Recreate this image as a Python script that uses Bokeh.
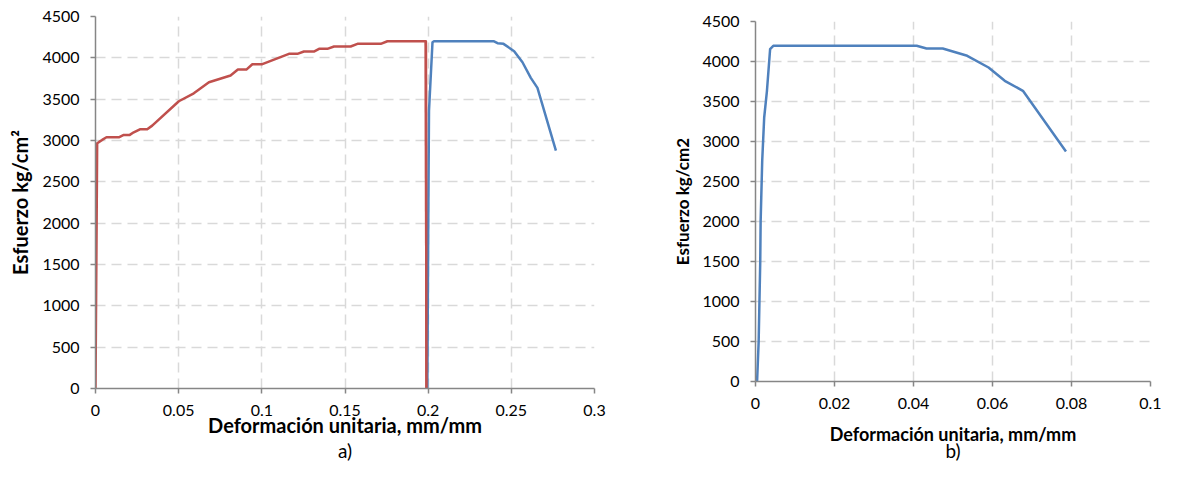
from bokeh.plotting import figure
from bokeh.layouts import row, column
from bokeh.models import FixedTicker, Range1d, Title, Spacer
from bokeh.embed import file_html
from bokeh.resources import INLINE

# ---------------- data: chart a) ----------------
a_red_x = [0, 0.001, 0.0022, 0.004, 0.0066, 0.014, 0.017, 0.0206, 0.023, 0.0267,
           0.0311, 0.0341, 0.0501, 0.0591, 0.0682, 0.0812, 0.0856, 0.0907, 0.0943,
           0.1003, 0.1163, 0.1214, 0.1253, 0.1313, 0.1344, 0.1394, 0.1434, 0.1534,
           0.1575, 0.1715, 0.1755, 0.1986, 0.1990]
a_red_y = [0, 2966, 2983, 3007, 3039, 3039, 3068, 3068, 3099, 3136,
           3136, 3180, 3475, 3571, 3705, 3786, 3858, 3858, 3923,
           3923, 4048, 4048, 4076, 4076, 4109, 4109, 4137, 4137,
           4169, 4169, 4201, 4201, 0]

a_blue_x = [0.1995, 0.2000, 0.2005, 0.2026, 0.2035, 0.2393, 0.2417, 0.2453,
            0.2517, 0.2567, 0.2617, 0.2657, 0.2768]
a_blue_y = [0, 1790, 3360, 4189, 4201, 4201, 4177, 4169,
            4080, 3947, 3758, 3637, 2878]

a_xticks = [0, 0.05, 0.1, 0.15, 0.2, 0.25, 0.3]
a_xlabels = ["0", "0.05", "0.1", "0.15", "0.2", "0.25", "0.3"]

# ---------------- data: chart b) ----------------
b_x = [0.0004, 0.0008, 0.0012, 0.0013, 0.0017, 0.0022, 0.0029, 0.0037, 0.0045,
       0.0408, 0.0433, 0.0474, 0.0536, 0.059, 0.0631, 0.0677, 0.0786]
b_y = [0, 500, 1500, 2000, 2760, 3300, 3634, 4155, 4196,
       4196, 4162, 4162, 4071, 3925, 3759, 3634, 2875]

b_xticks = [0, 0.02, 0.04, 0.06, 0.08, 0.1]
b_xlabels = ["0", "0.02", "0.04", "0.06", "0.08", "0.1"]

yticks = [0, 500, 1000, 1500, 2000, 2500, 3000, 3500, 4000, 4500]
ylabels = [str(v) for v in yticks]

RED = "#C0504D"
BLUE = "#4F81BD"
FONT = "Lato"


def style(p, xticks, xlabels, xtitle, ytitle, xsize, ysize,
          xlab_stand, xstand, ystand):
    p.xaxis.ticker = FixedTicker(ticks=xticks)
    p.xaxis.major_label_overrides = {t: s for t, s in zip(xticks, xlabels)}
    p.yaxis.ticker = FixedTicker(ticks=yticks)
    p.yaxis.major_label_overrides = {t: s for t, s in zip(yticks, ylabels)}
    p.xaxis.axis_label = xtitle
    p.yaxis.axis_label = ytitle
    for ax in (p.xaxis, p.yaxis):
        ax.axis_line_color = "#868686"
        ax.axis_line_width = 1.5
        ax.major_tick_line_color = "#868686"
        ax.major_tick_line_width = 1.5
        ax.major_tick_in = 0
        ax.major_tick_out = 5
        ax.minor_tick_line_color = None
        ax.major_label_text_font = FONT
        ax.major_label_text_font_size = "16px"
        ax.major_label_text_color = "#000000"
        ax.axis_label_text_font = FONT
        ax.axis_label_text_font_style = "bold"
        ax.axis_label_text_color = "#000000"
    p.xaxis.axis_label_text_font_size = xsize
    p.yaxis.axis_label_text_font_size = ysize
    p.yaxis.major_label_standoff = 11
    p.xaxis.major_label_standoff = xlab_stand
    p.yaxis.axis_label_standoff = ystand
    p.xaxis.axis_label_standoff = xstand
    for g in (p.xgrid, p.ygrid):
        g.grid_line_color = "#d9d9d9"
        g.grid_line_width = 1.5
        g.grid_line_dash = "10 6"
    p.outline_line_color = None
    p.background_fill_color = "white"
    p.border_fill_color = "white"


pa = figure(width=610, height=462, output_backend="svg", toolbar_location=None,
            x_range=Range1d(0, 0.3), y_range=Range1d(0, 4500),
            min_border_left=95, min_border_right=16, min_border_top=16,
            min_border_bottom=74)
style(pa, a_xticks, a_xlabels, "Deformación unitaria, mm/mm", "Esfuerzo kg/cm²",
      "20px", "20px", 11, -6, 7)
pa.line(a_red_x, a_red_y, line_color=RED, line_width=2.5, line_join="round")
pa.line(a_blue_x, a_blue_y, line_color=BLUE, line_width=2.5, line_join="round")
pa.line(a_red_x[-2:], a_red_y[-2:], line_color=RED, line_width=2.5)
pa.add_layout(Title(text="a)", align="center", text_font=FONT,
                    text_font_size="19px", text_font_style="normal",
                    text_color="#000000", standoff=-6), "below")

pb = figure(width=551, height=457, output_backend="svg", toolbar_location=None,
            x_range=Range1d(0, 0.1), y_range=Range1d(0, 4500),
            min_border_left=145, min_border_right=11, min_border_top=16,
            min_border_bottom=81)
style(pb, b_xticks, b_xlabels, "Deformación unitaria, mm/mm", "Esfuerzo kg/cm2",
      "18px", "17px", 11, 11, 6)
pb.line(b_x, b_y, line_color=BLUE, line_width=2.5, line_join="round")
pb.add_layout(Title(text="b)", align="center", text_font=FONT,
                    text_font_size="19px", text_font_style="normal",
                    text_color="#000000", standoff=-21), "below")

layout = row(pa, column(Spacer(height=5), pb))
open("out.html", "w").write(file_html(layout, INLINE))
